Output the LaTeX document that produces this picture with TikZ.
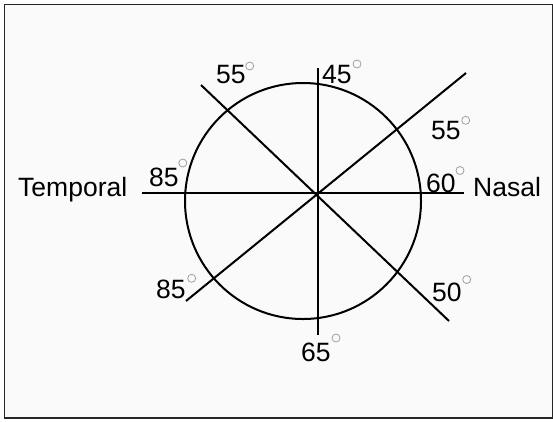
\documentclass[tikz,border=0pt]{standalone}
\usepackage{fontspec}
\setmainfont{Liberation Sans}
\begin{document}
\begin{tikzpicture}[x=1pt,y=-1pt,
  axis/.style={line width=2pt,black},
  ring/.style={line width=2pt,black},
  num/.style={inner sep=0pt,anchor=base west,font=\fontsize{26.5}{30}\selectfont},
  word/.style={inner sep=0pt,anchor=base west,font=\fontsize{26.5}{30}\selectfont},
  deg/.style={draw=gray!75,line width=0.8pt,circle,minimum size=8pt,inner sep=0pt}]
\useasboundingbox (0,0) rectangle (553,421);
\draw[line width=1.3pt,black!85,fill=black!2] (4.5,4.5) rectangle (552.5,418);
% circle
\node[ring,draw,circle,minimum size=236pt,inner sep=0pt] (C) at (303,201) {};
% centre and line ends
\coordinate (O) at (318,193);
\coordinate (hl) at (142,193);
\coordinate (hr) at (464,193);
\coordinate (vt) at (318,68);
\coordinate (vb) at (318,335);
\coordinate (d1a) at (201,85);
\coordinate (d1b) at (449,321);
\coordinate (d2a) at (186,301);
\coordinate (d2b) at (466,73);
\draw[axis] (hl) -- (hr);
\draw[axis] (vt) -- (vb);
\draw[axis] (d1a) -- (d1b);
\draw[axis] (d2a) -- (d2b);
% labels
\node[word] (temporal) at (18,196) {Temporal};
\node[word] (nasal) at (473,196) {Nasal};
\node[num] (n1) at (216,83) {55};
\node[num] (n2) at (322,83) {45};
\node[num] (n3) at (431,139) {55};
\node[num] (n4) at (149,186) {85};
\node[num] (n5) at (426,192) {60};
\node[num] (n6) at (432,301) {50};
\node[num] (n7) at (156,298) {85};
\node[num] (n8) at (301,361) {65};
% degree signs
\node[deg] (g1) at (249.7,66) {};
\node[deg] (g2) at (357,64) {};
\node[deg] (g3) at (465.7,120.3) {};
\node[deg] (g4) at (182.8,163) {};
\node[deg] (g5) at (460,170.5) {};
\node[deg] (g6) at (466.7,279.5) {};
\node[deg] (g7) at (191.7,278.3) {};
\node[deg] (g8) at (336,338) {};
\end{tikzpicture}
\end{document}
